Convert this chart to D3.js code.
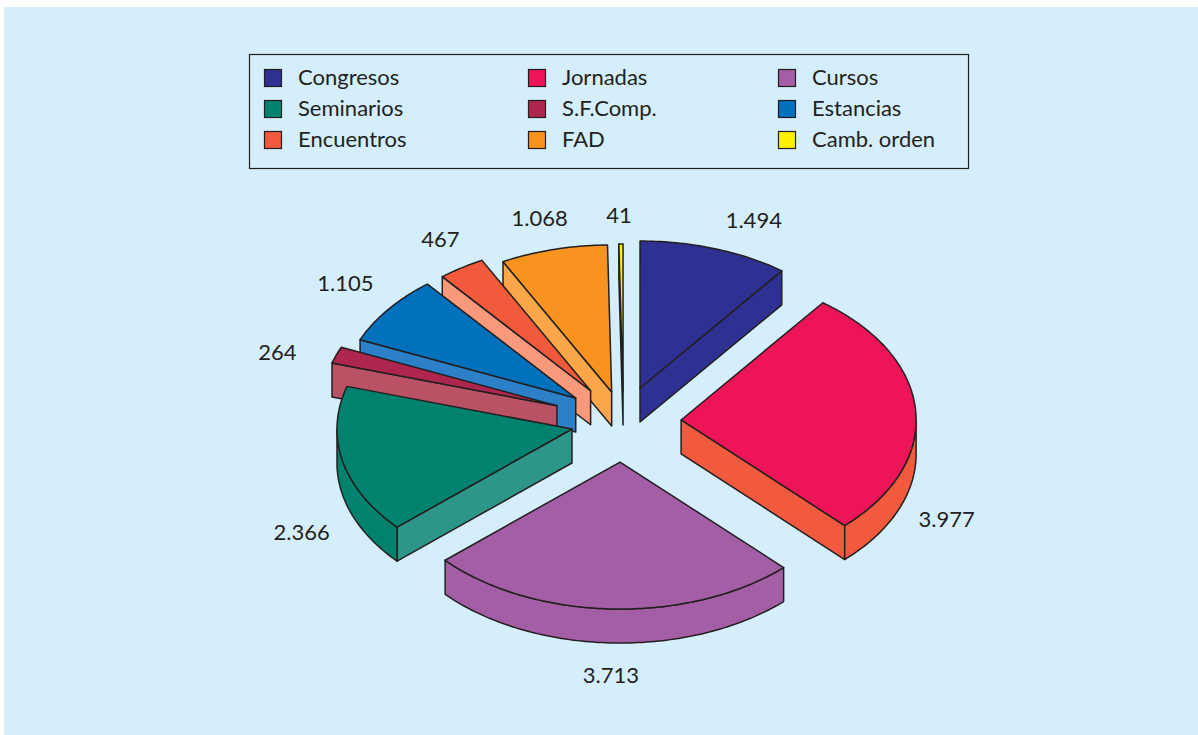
<!DOCTYPE html>
<html lang="es">
<head>
<meta charset="utf-8">
<script src="https://cdn.jsdelivr.net/npm/d3@7"></script>
<style>
html,body{margin:0;padding:0;background:#fff;}
svg{display:block;}
text{font-family:Lato,"Noto Sans",sans-serif;fill:#231F20;}
</style>
</head>
<body>
<svg id="c" width="1198" height="735"></svg>
<script>
const categories = ["Congresos","Jornadas","Cursos","Seminarios","S.F.Comp.","Estancias","Encuentros","FAD","Camb. orden"];
const values = [1494,3977,3713,2366,264,1105,467,1068,41];
const topColors = ["#2E3192","#ED1458","#A45EA5","#00826F","#AE264D","#0071BC","#F15A3C","#F7931E","#FFF200"];
const faceColors = ["#2E3192","#F15A3C","#A45EA5","#2E9688","#B85264","#2B80C8","#F7997A","#FBA648","#FFF200"];
const wallColors = ["#2E3192","#F15A3C","#A45EA5","#00826F","#B85264","#2B80C8","#F7997A","#FBA648","#FFF200"];
const explodeX = [0.241,0.252,0.243,0.218,0.295,0.247,0.243,0.178,-0.5];
const explodeY = [0.258,0.446,0.259,0.157,0.361,0.292,0.271,0.225,0.224];
const drawOrder = [0,8,7,6,5,4,3,1,2];
const labelNudgeX = [39,31,-1,-41,-59,-43,-21,-14,-2];
const labelNudgeY = [-29,108,66,71,-3,-26,-29,-31,-29];

const W=1198,H=735;
const cx=622,cy=424,rx=235,ry=147,depth=34;
const ink="#231F20";
const svg=d3.select("#c");
svg.append("rect").attr("x",4).attr("y",7).attr("width",W-4).attr("height",H-7).attr("fill","#D4EEFB");

const sx=d3.scaleLinear().domain([-1,1]).range([cx-rx,cx+rx]);
const sy=d3.scaleLinear().domain([-1,1]).range([cy-ry,cy+ry]);
const es=d3.formatLocale({decimal:",",thousands:".",grouping:[3],currency:["","€"]}).format(",d");
const arcs=d3.pie().sort(null).value(d=>d)(values);
const line=d3.line().x(d=>d[0]).y(d=>d[1]);
const deg=Math.PI/180;

function geom(i){
  const a=arcs[i], mid=(a.startAngle+a.endAngle)/2;
  const ax=sx(explodeX[i]*Math.sin(mid)), ay=sy(-explodeY[i]*Math.cos(mid));
  const pt=(t,dz=0)=>[ax+sx(Math.sin(t))-sx(0), ay+sy(-Math.cos(t))-sy(0)+dz];
  return {a,mid,ax,ay,pt};
}
function samples(t0,t1){
  const n=Math.max(2,Math.ceil((t1-t0)/deg));
  return d3.range(n+1).map(k=>t0+(t1-t0)*k/n);
}
const g=svg.append("g").attr("stroke",ink).attr("stroke-width",1.5).attr("stroke-linejoin","round");
drawOrder.forEach(i=>{
  const {a,ax,ay,pt}=geom(i);
  const s=a.startAngle,t=a.endAngle;
  const faces=[];
  if(Math.sin(s)<0) faces.push(s);
  if(Math.sin(t)>0) faces.push(t);
  faces.forEach(f=>{
    const p=pt(f);
    g.append("path").attr("fill",faceColors[i])
      .attr("d",line([[ax,ay],p,[p[0],p[1]+depth],[ax,ay+depth]])+"Z");
  });
  const w0=Math.max(s,90*deg),w1=Math.min(t,270*deg);
  if(w1>w0){
    const ts=samples(w0,w1);
    const pts=ts.map(v=>pt(v)).concat(ts.slice().reverse().map(v=>pt(v,depth)));
    g.append("path").attr("fill",wallColors[i]).attr("d",line(pts)+"Z");
  }
  const top=[[ax,ay]].concat(samples(s,t).map(v=>pt(v)));
  g.append("path").attr("fill",topColors[i]).attr("d",line(top)+"Z");
});

values.forEach((v,i)=>{
  const {mid,pt}=geom(i);
  const p=pt(mid);
  svg.append("text").attr("x",p[0]+labelNudgeX[i]).attr("y",p[1]+labelNudgeY[i]+8)
    .attr("text-anchor","middle").attr("font-size",22).text(es(v));
});

const legend=svg.append("g");
legend.append("rect").attr("x",249.5).attr("y",54.5).attr("width",719).attr("height",114)
  .attr("fill","none").attr("stroke",ink).attr("stroke-width",1.2);
const colX=[264,528,778], rowY=[69,100,131];
categories.forEach((name,k)=>{
  const c=k%3,r=Math.floor(k/3);
  legend.append("rect").attr("x",colX[c]+.5).attr("y",rowY[r]+.5).attr("width",17).attr("height",17)
    .attr("fill",topColors[k]).attr("stroke",ink).attr("stroke-width",1.2);
  legend.append("text").attr("x",colX[c]+34).attr("y",rowY[r]+16).attr("font-size",22).text(name);
});
</script>
</body>
</html>
